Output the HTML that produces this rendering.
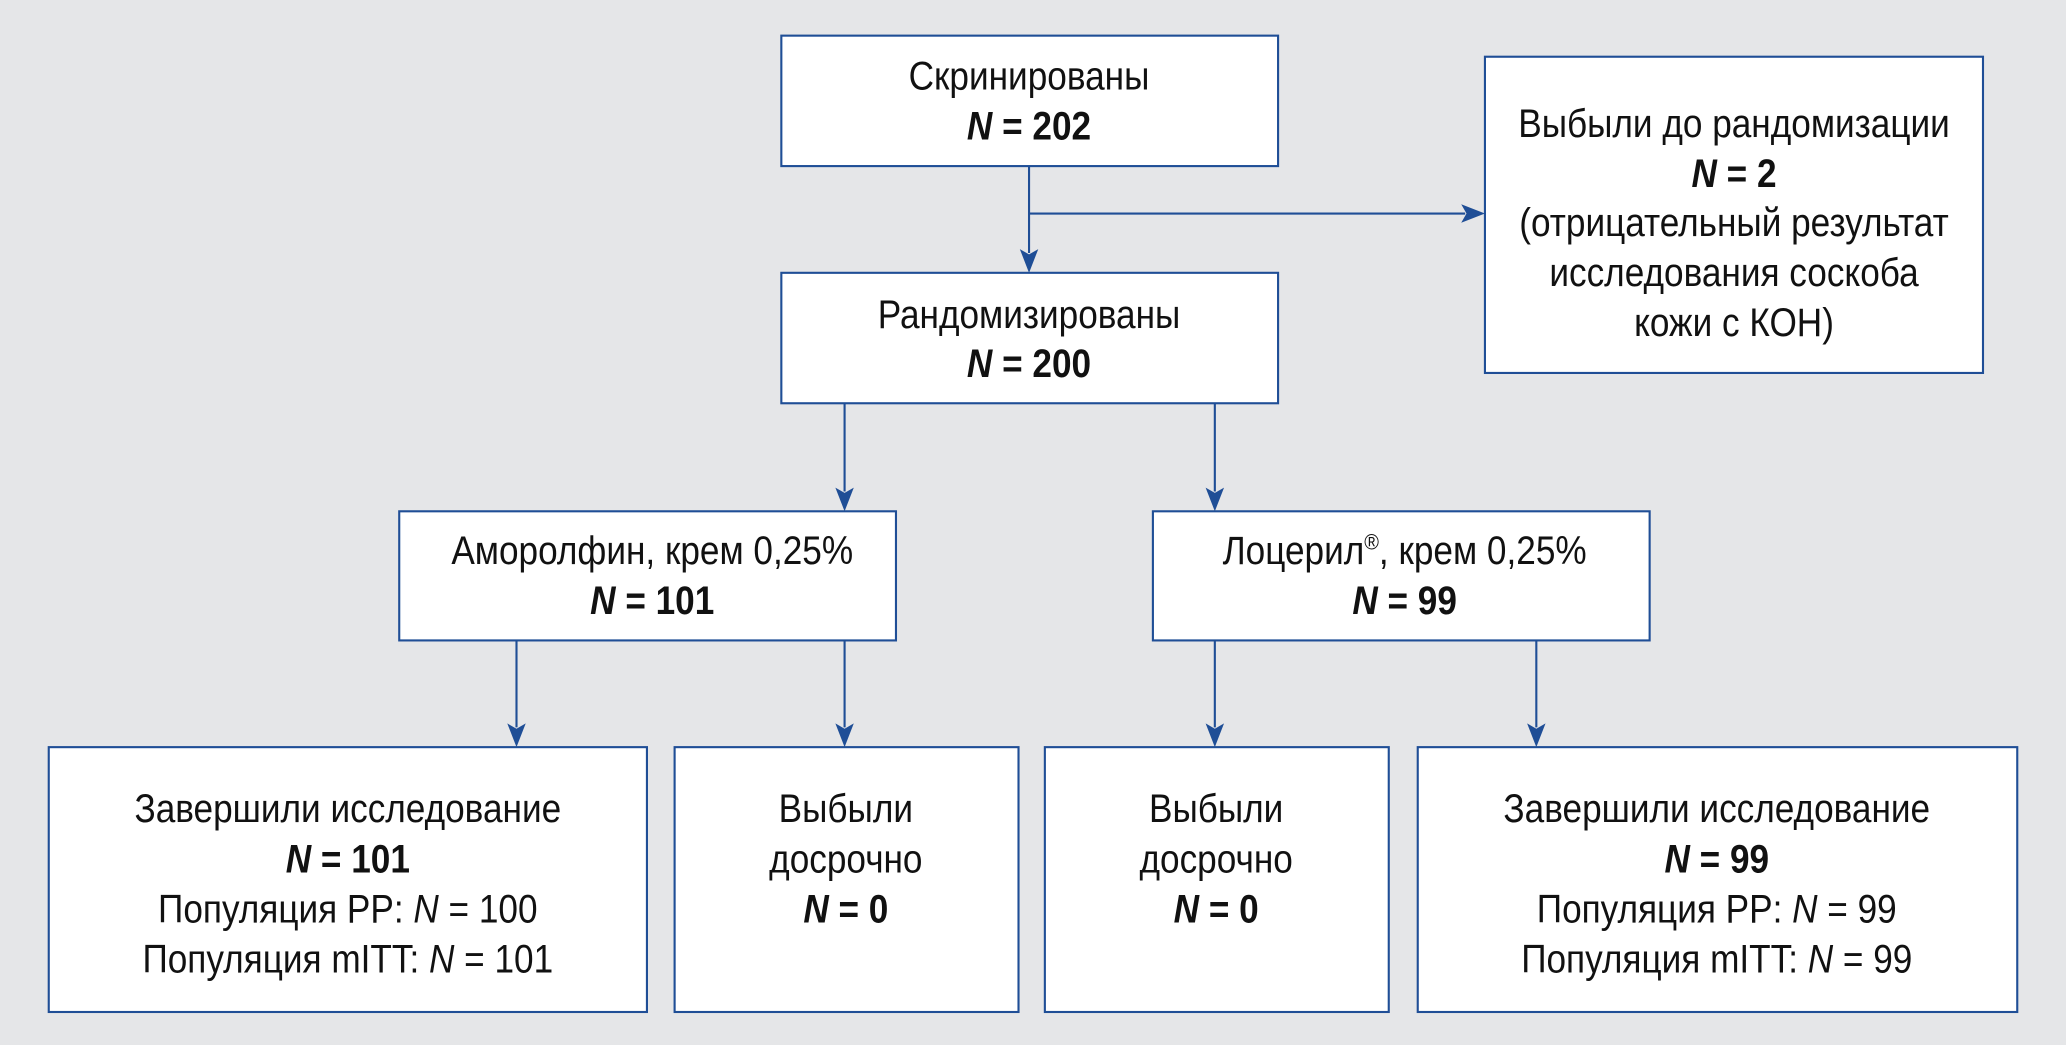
<!DOCTYPE html>
<html><head><meta charset="utf-8"><style>
html,body{margin:0;padding:0;background:#e5e6e8;}
svg{display:block}
text{font-family:"Liberation Sans Narrow","Liberation Sans",sans-serif;font-size:30px;fill:#111;text-anchor:middle;}
.b{font-weight:bold}
</style></head><body>
<svg width="2066" height="1045" viewBox="0 0 1568 793" xmlns="http://www.w3.org/2000/svg">
<rect width="1568" height="793" fill="#e5e6e8"/>
<g fill="#fff" stroke="#1f4e96" stroke-width="1.6">
<rect x="593" y="27" width="377" height="99"/>
<rect x="1127" y="43" width="378" height="240"/>
<rect x="593" y="207" width="377" height="99"/>
<rect x="303" y="388" width="377" height="98"/>
<rect x="875" y="388" width="377" height="98"/>
<rect x="37" y="567" width="454" height="201"/>
<rect x="512" y="567" width="261" height="201"/>
<rect x="793" y="567" width="261" height="201"/>
<rect x="1076" y="567" width="455" height="201"/>
</g>
<g stroke="#1f4e96" stroke-width="1.6" fill="none">
<line x1="781" y1="126" x2="781" y2="192"/>
<line x1="781" y1="162" x2="1112" y2="162"/>
<line x1="641" y1="306" x2="641" y2="373"/>
<line x1="922" y1="306" x2="922" y2="373"/>
<line x1="392" y1="486" x2="392" y2="552"/>
<line x1="641" y1="486" x2="641" y2="552"/>
<line x1="922" y1="486" x2="922" y2="552"/>
<line x1="1166" y1="486" x2="1166" y2="552"/>
</g>
<g fill="#1f4e96">
<path d="M774,189 L781,193 L788,189 L781,207 Z"/>
<path d="M1109,155 L1113,162 L1109,169 L1127,162 Z"/>
<path d="M634,370 L641,374 L648,370 L641,388 Z"/>
<path d="M915,370 L922,374 L929,370 L922,388 Z"/>
<path d="M385,549 L392,553 L399,549 L392,567 Z"/>
<path d="M634,549 L641,553 L648,549 L641,567 Z"/>
<path d="M915,549 L922,553 L929,549 L922,567 Z"/>
<path d="M1159,549 L1166,553 L1173,549 L1166,567 Z"/>
</g>
<g transform="scale(0.89,1)">
<text x="877.5" y="68">Скринированы</text>
<text x="877.5" y="106" class="b"><tspan font-style="italic">N</tspan> = 202</text>
<text x="1478.7" y="104">Выбыли до рандомизации</text>
<text x="1478.7" y="142" class="b"><tspan font-style="italic">N</tspan> = 2</text>
<text x="1478.7" y="179">(отрицательный результат</text>
<text x="1478.7" y="217">исследования соскоба</text>
<text x="1478.7" y="255">кожи с КОН)</text>
<text x="877.5" y="249">Рандомизированы</text>
<text x="877.5" y="286" class="b"><tspan font-style="italic">N</tspan> = 200</text>
<text x="556.2" y="428">Аморолфин, крем 0,25%</text>
<text x="556.2" y="466" class="b"><tspan font-style="italic">N</tspan> = 101</text>
<text x="1197.8" y="428">Лоцерил<tspan font-size="17" dy="-11">®</tspan><tspan dy="11">, крем 0,25%</tspan></text>
<text x="1197.8" y="466" class="b"><tspan font-style="italic">N</tspan> = 99</text>
<text x="296.6" y="624">Завершили исследование</text>
<text x="296.6" y="662" class="b"><tspan font-style="italic">N</tspan> = 101</text>
<text x="296.6" y="700">Популяция PP: <tspan font-style="italic">N</tspan> = 100</text>
<text x="296.6" y="738">Популяция mITT: <tspan font-style="italic">N</tspan> = 101</text>
<text x="721.3" y="624">Выбыли</text>
<text x="721.3" y="662">досрочно</text>
<text x="721.3" y="700" class="b"><tspan font-style="italic">N</tspan> = 0</text>
<text x="1037.1" y="624">Выбыли</text>
<text x="1037.1" y="662">досрочно</text>
<text x="1037.1" y="700" class="b"><tspan font-style="italic">N</tspan> = 0</text>
<text x="1464" y="624">Завершили исследование</text>
<text x="1464" y="662" class="b"><tspan font-style="italic">N</tspan> = 99</text>
<text x="1464" y="700">Популяция PP: <tspan font-style="italic">N</tspan> = 99</text>
<text x="1464" y="738">Популяция mITT: <tspan font-style="italic">N</tspan> = 99</text>
</g>
</svg>
</body></html>
